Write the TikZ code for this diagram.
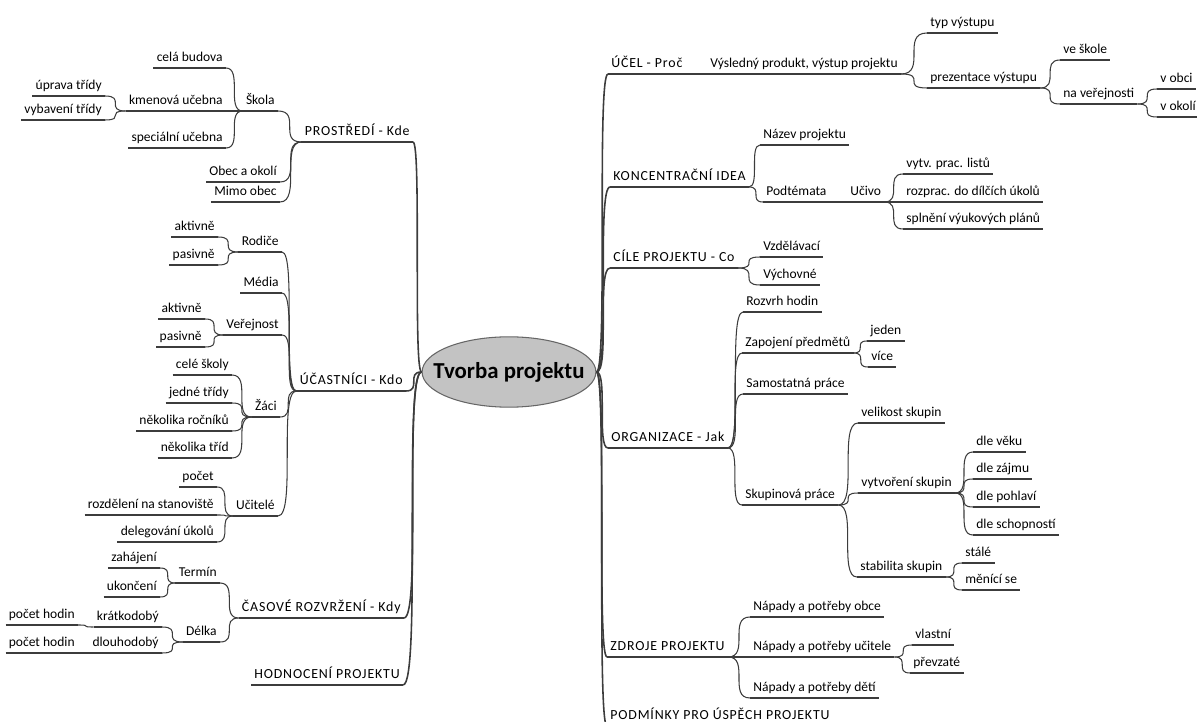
\documentclass[tikz,border=0pt]{standalone}
\usepackage{fontspec}
\setmainfont{Carlito}
\newfontfamily\capsfont[LetterSpace=6]{Carlito}
\usepackage{tikz}
\usetikzlibrary{shapes.geometric}
\definecolor{linegray}{RGB}{60,60,60}
\definecolor{rootgray}{RGB}{195,195,195}

\tikzset{
  link/.style={draw=linegray, line width=0.6pt},
  trunk/.style={draw=linegray, line width=0.9pt},
  mm/.style={to path={.. controls (\tikztotarget |- \tikztostart) and (\tikztostart |- \tikztotarget) .. (\tikztotarget)}},
  lbl/.style={font=\fontsize{7.7}{8.5}\selectfont, inner xsep=0.06cm, inner ysep=2pt, text height=5.7pt, text depth=1.7pt},
  rt/.style={lbl, anchor=south west},
  lt/.style={lbl, anchor=south east},
  rtm/.style={rt, font=\capsfont\fontsize{7.9}{8.5}\selectfont},
  ltm/.style={lt, font=\capsfont\fontsize{7.9}{8.5}\selectfont},
  root/.style={ellipse, draw=black!60, line width=0.6pt, fill=rootgray, inner xsep=-8pt, inner ysep=8.5pt, font=\bfseries\fontsize{13}{15}\selectfont}
}

\begin{document}
\begin{tikzpicture}[x=0.02cm, y=-0.02cm]
\useasboundingbox (0,0) rectangle (1197,722);

\node[root] (root) at (509,372) {Tvorba projektu};

% prava strana
\node[rtm] (ucel) at (608,74) {ÚČEL - Proč};
\node[rt] (vysl) at (707,74) {Výsledný produkt, výstup projektu};
\node[rt] (typ) at (927,33) {typ výstupu};
\node[rt] (prez) at (927,88) {prezentace výstupu};
\node[rt] (veskole) at (1060,60) {ve škole};
\node[rt] (naver) at (1060,104) {na veřejnosti};
\node[rt] (vobci) at (1157,89) {v obci};
\node[rt] (vokoli) at (1157,117) {v okolí};

\node[rtm] (konc) at (610,187) {KONCENTRAČNÍ IDEA};
\node[rt] (nazev) at (760,145) {Název projektu};
\node[rt] (podt) at (763,202) {Podtémata};
\node[rt] (ucivo) at (847,202) {Učivo};
\node[rt] (listy) at (903,174) {vytv. prac. listů};
\node[rt] (ukoly) at (903,202) {rozprac. do dílčích úkolů};
\node[rt] (plany) at (903,229) {splnění výukových plánů};

\node[rtm] (cile) at (610,268) {CÍLE PROJEKTU - Co};
\node[rt] (vzdel) at (760,257) {Vzdělávací};
\node[rt] (vych) at (760,285) {Výchovné};

\node[rtm] (org) at (608,448) {ORGANIZACE - Jak};
\node[rt] (rozvrh) at (743,312) {Rozvrh hodin};
\node[rt] (zapoj) at (742,353) {Zapojení předmětů};
\node[rt] (jeden) at (867,341) {jeden};
\node[rt] (vice) at (868,367) {více};
\node[rt] (samost) at (743,394) {Samostatná práce};
\node[rt] (skup) at (742,505) {Skupinová práce};
\node[rt] (velik) at (858,423) {velikost skupin};
\node[rt] (vytvor) at (858,493) {vytvoření skupin};
\node[rt] (vek) at (973,452) {dle věku};
\node[rt] (zajem) at (973,479) {dle zájmu};
\node[rt] (pohl) at (973,507) {dle pohlaví};
\node[rt] (schop) at (973,535) {dle schopností};
\node[rt] (stab) at (857,577) {stabilita skupin};
\node[rt] (stale) at (962,563) {stálé};
\node[rt] (menici) at (962,590) {měnící se};

\node[rtm] (zdroje) at (607,657) {ZDROJE PROJEKTU};
\node[rt] (obce) at (750,617) {Nápady a potřeby obce};
\node[rt] (napucit) at (750,657) {Nápady a potřeby učitele};
\node[rt] (vlast) at (912,645) {vlastní};
\node[rt] (prevz) at (910,673) {převzaté};
\node[rt] (deti) at (750,698) {Nápady a potřeby dětí};
\node[rtm] (podm) at (607,726) {PODMÍNKY PRO ÚSPĚCH PROJEKTU};

% leva strana
\node[ltm] (prost) at (413,142) {PROSTŘEDÍ - Kde};
\node[lt] (skola) at (278,111) {Škola};
\node[lt] (cela) at (226,68) {celá budova};
\node[lt] (kmen) at (226,111) {kmenová učebna};
\node[lt] (uprava) at (105,96) {úprava třídy};
\node[lt] (vybav) at (105,120) {vybavení třídy};
\node[lt] (spec) at (226,148) {speciální učebna};
\node[lt] (obec) at (280,182) {Obec a okolí};
\node[lt] (mimo) at (280,202) {Mimo obec};

\node[ltm] (ucast) at (406,391) {ÚČASTNÍCI - Kdo};
\node[lt] (rodice) at (282,252) {Rodiče};
\node[lt] (akt1) at (218,237) {aktivně};
\node[lt] (pas1) at (218,265) {pasivně};
\node[lt] (media) at (282,293) {Média};
\node[lt] (verej) at (282,335) {Veřejnost};
\node[lt] (akt2) at (205,319) {aktivně};
\node[lt] (pas2) at (205,347) {pasivně};
\node[lt] (zaci) at (280,417) {Žáci};
\node[lt] (celesk) at (232,375) {celé školy};
\node[lt] (jedne) at (232,403) {jedné třídy};
\node[lt] (rocn) at (232,431) {několika ročníků};
\node[lt] (trid) at (232,458) {několika tříd};
\node[lt] (ucit) at (278,516) {Učitelé};
\node[lt] (pocet) at (217,487) {počet};
\node[lt] (rozdel) at (217,515) {rozdělení na stanoviště};
\node[lt] (deleg) at (217,542) {delegování úkolů};

\node[ltm] (cas) at (404,618) {ČASOVÉ ROZVRŽENÍ - Kdy};
\node[lt] (termin) at (220,583) {Termín};
\node[lt] (zahaj) at (160,568) {zahájení};
\node[lt] (ukonc) at (160,597) {ukončení};
\node[lt] (delka) at (220,642) {Délka};
\node[lt] (kratko) at (162,627) {krátkodobý};
\node[lt] (hod1) at (78,625) {počet hodin};
\node[lt] (dlouho) at (162,653) {dlouhodobý};
\node[lt] (hod2) at (78,653) {počet hodin};
\node[ltm] (hodn) at (403,685) {HODNOCENÍ PROJEKTU};

% podtrzeni
\foreach \n in {ucel,vysl,typ,prez,veskole,naver,vobci,vokoli,konc,nazev,podt,ucivo,listy,ukoly,plany,
  cile,vzdel,vych,org,rozvrh,zapoj,jeden,vice,samost,skup,velik,vytvor,vek,zajem,pohl,schop,stab,stale,menici,
  zdroje,obce,napucit,vlast,prevz,deti,podm,
  prost,skola,cela,kmen,uprava,vybav,spec,obec,mimo,ucast,rodice,akt1,pas1,media,verej,akt2,pas2,
  zaci,celesk,jedne,rocn,trid,ucit,pocet,rozdel,deleg,cas,termin,zahaj,ukonc,delka,kratko,hod1,dlouho,hod2,hodn}
  \draw[link] (\n.south west) -- (\n.south east);

% hlavni vetve
\foreach \b in {ucel,konc,cile,org,zdroje,podm}
  \draw[trunk] (root.east) to[mm] (\b.south west);
\foreach \b in {prost,ucast,cas,hodn}
  \draw[trunk] (root.west) to[mm] (\b.south east);

\foreach \a/\b in {ucel/vysl,vysl/typ,vysl/prez,prez/veskole,prez/naver,naver/vobci,naver/vokoli,
  konc/nazev,konc/podt,podt/ucivo,ucivo/listy,ucivo/ukoly,ucivo/plany,cile/vzdel,cile/vych,
  org/rozvrh,org/zapoj,zapoj/jeden,zapoj/vice,org/samost,org/skup,skup/velik,skup/vytvor,
  vytvor/vek,vytvor/zajem,vytvor/pohl,vytvor/schop,skup/stab,stab/stale,stab/menici,
  zdroje/obce,zdroje/napucit,napucit/vlast,napucit/prevz,zdroje/deti}
  \draw[link] (\a.south east) to[mm] (\b.south west);

\foreach \a/\b in {prost/skola,skola/cela,skola/kmen,kmen/uprava,kmen/vybav,skola/spec,prost/obec,prost/mimo,
  ucast/rodice,rodice/akt1,rodice/pas1,ucast/media,ucast/verej,verej/akt2,verej/pas2,
  ucast/zaci,zaci/celesk,zaci/jedne,zaci/rocn,zaci/trid,ucast/ucit,ucit/pocet,ucit/rozdel,ucit/deleg,
  cas/termin,termin/zahaj,termin/ukonc,cas/delka,delka/kratko,kratko/hod1,delka/dlouho,dlouho/hod2}
  \draw[link] (\a.south west) to[mm] (\b.south east);
\end{tikzpicture}
\end{document}
